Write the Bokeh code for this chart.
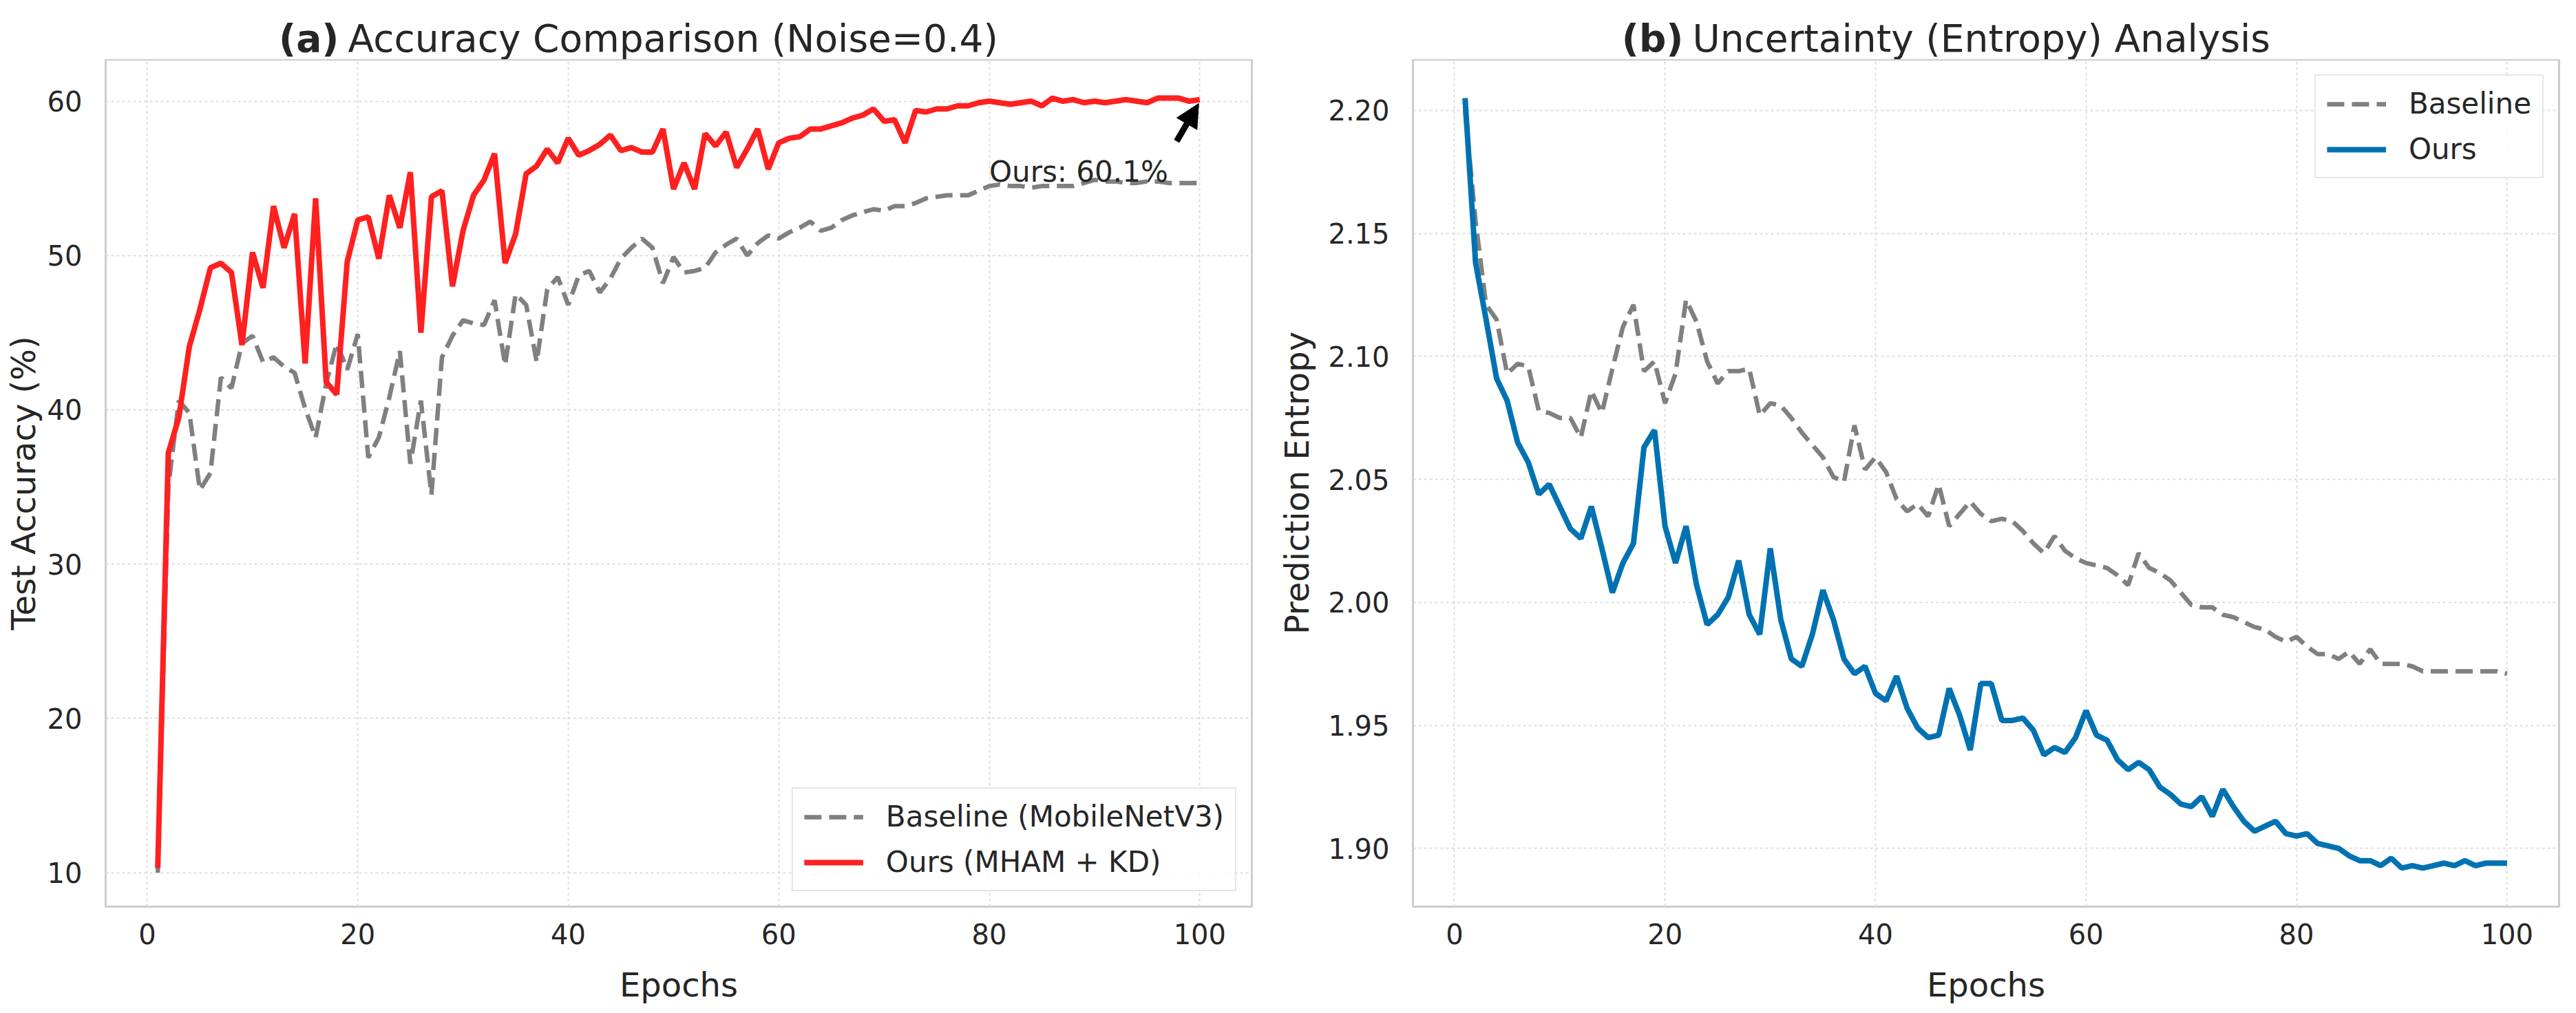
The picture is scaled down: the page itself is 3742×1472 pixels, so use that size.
from bokeh.plotting import figure
from bokeh.layouts import row, column
from bokeh.models import (Range1d, FixedTicker, PrintfTickFormatter, Label,
                          Arrow, NormalHead)
from bokeh.core.properties import value
from bokeh.embed import file_html
from bokeh.resources import INLINE

# ---------------- data ----------------
epochs = list(range(1, 101))

baseline_acc = [
    10.0, 35.0, 40.6, 39.8, 34.8, 35.9, 42.1, 41.4, 44.3, 44.8,
    43.1, 43.4, 42.8, 42.4, 40.1, 38.2, 41.7, 44.3, 42.6, 44.9,
    36.9, 38.2, 40.8, 43.8, 36.5, 40.6, 34.5, 43.4, 44.8, 45.8,
    45.6, 45.5, 47.1, 42.9, 47.5, 46.8, 43.1, 47.8, 48.6, 46.8,
    48.7, 49.0, 47.6, 48.5, 49.8, 50.5, 51.1, 50.5, 48.2, 49.9,
    48.9, 49.0, 49.2, 50.2, 50.7, 51.1, 50.0, 50.8, 51.3, 51.1,
    51.5, 51.8, 52.2, 51.6, 51.8, 52.3, 52.6, 52.8, 53.0, 52.9,
    53.2, 53.2, 53.4, 53.7, 53.8, 53.9, 53.9, 53.9, 54.2, 54.5,
    54.6, 54.5, 54.5, 54.4, 54.5, 54.5, 54.5, 54.5, 54.7, 54.9,
    54.8, 54.8, 54.7, 54.7, 54.8, 54.8, 54.7, 54.7, 54.7, 54.7,
]

ours_acc = [
    10.3, 37.2, 39.5, 44.1, 46.5, 49.2, 49.5, 48.9, 44.2, 50.2,
    47.9, 53.2, 50.5, 52.7, 43.0, 53.7, 41.8, 41.0, 49.6, 52.3,
    52.5, 49.8, 53.9, 51.8, 55.4, 45.0, 53.8, 54.2, 48.0, 51.6,
    53.9, 54.9, 56.6, 49.5, 51.4, 55.3, 55.8, 56.9, 56.0, 57.6,
    56.5, 56.8, 57.2, 57.8, 56.8, 57.0, 56.7, 56.7, 58.2, 54.3,
    56.0, 54.3, 57.9, 57.1, 58.0, 55.7, 56.9, 58.2, 55.6, 57.3,
    57.6, 57.7, 58.2, 58.2, 58.4, 58.6, 58.9, 59.1, 59.5, 58.7,
    58.8, 57.3, 59.4, 59.3, 59.5, 59.5, 59.7, 59.7, 59.9, 60.0,
    59.9, 59.8, 59.9, 60.0, 59.7, 60.2, 60.0, 60.1, 59.9, 60.0,
    59.9, 60.0, 60.1, 60.0, 59.9, 60.2, 60.2, 60.2, 60.0, 60.1,
]

baseline_entropy = [
    2.200, 2.155, 2.121, 2.115, 2.093, 2.097, 2.096, 2.078, 2.077, 2.075,
    2.075, 2.067, 2.086, 2.077, 2.095, 2.112, 2.121, 2.094, 2.098, 2.081,
    2.093, 2.123, 2.114, 2.098, 2.089, 2.094, 2.094, 2.095, 2.076, 2.081,
    2.080, 2.075, 2.069, 2.064, 2.059, 2.051, 2.049, 2.072, 2.054, 2.059,
    2.053, 2.042, 2.037, 2.040, 2.035, 2.048, 2.031, 2.036, 2.041, 2.036,
    2.033, 2.034, 2.033, 2.029, 2.024, 2.020, 2.027, 2.021, 2.018, 2.016,
    2.015, 2.014, 2.011, 2.007, 2.020, 2.014, 2.012, 2.009, 2.004, 1.999,
    1.998, 1.998, 1.995, 1.994, 1.992, 1.990, 1.989, 1.986, 1.984, 1.986,
    1.982, 1.979, 1.979, 1.977, 1.980, 1.975, 1.981, 1.975, 1.975, 1.975,
    1.974, 1.972, 1.972, 1.972, 1.972, 1.972, 1.972, 1.972, 1.972, 1.971,
]

ours_entropy = [
    2.205, 2.138, 2.115, 2.091, 2.082, 2.065, 2.057, 2.044, 2.048, 2.039,
    2.030, 2.026, 2.039, 2.022, 2.004, 2.016, 2.024, 2.063, 2.070, 2.031,
    2.016, 2.031, 2.007, 1.991, 1.995, 2.002, 2.017, 1.995, 1.987, 2.022,
    1.993, 1.977, 1.974, 1.987, 2.005, 1.993, 1.977, 1.971, 1.974, 1.963,
    1.960, 1.970, 1.957, 1.949, 1.945, 1.946, 1.965, 1.954, 1.940, 1.967,
    1.967, 1.952, 1.952, 1.953, 1.948, 1.938, 1.941, 1.939, 1.945, 1.956,
    1.946, 1.944, 1.936, 1.932, 1.935, 1.932, 1.925, 1.922, 1.918, 1.917,
    1.921, 1.913, 1.924, 1.917, 1.911, 1.907, 1.909, 1.911, 1.906, 1.905,
    1.906, 1.902, 1.901, 1.900, 1.897, 1.895, 1.895, 1.893, 1.896, 1.892,
    1.893, 1.892, 1.893, 1.894, 1.893, 1.895, 1.893, 1.894, 1.894, 1.894,
]

x_ticks = [0, 20, 40, 60, 80, 100]
acc_ticks = [10, 20, 30, 40, 50, 60]
ent_ticks = [1.90, 1.95, 2.00, 2.05, 2.10, 2.15, 2.20]

label_baseline_a = "Baseline (MobileNetV3)"
label_ours_a = "Ours (MHAM + KD)"
label_baseline_b = "Baseline"
label_ours_b = "Ours"

title_tag_a, title_text_a = "(a)", "Accuracy Comparison (Noise=0.4)"
title_tag_b, title_text_b = "(b)", "Uncertainty (Entropy) Analysis"

annot_pos = (80, 55.45)       # where the "Ours: xx%" note sits
arrow_tail = (97.8, 57.4)     # arrow start (data units)

# ---------------- style ----------------
FONT = "DejaVu Sans"
TXT = "#262626"
RED = "#ff2020"
BLUE = "#0072B2"
GRAY = "#808080"
FW, FH = 1665, 1231
TITLE_H = 86
BL_A, BR_A = 153, 24      # panel (a) borders
BL_B, BR_B = 210, 9       # panel (b) borders


def base_fig(y_range, border_left, border_right):
    p = figure(frame_width=FW, frame_height=FH,
               x_range=Range1d(-3.95, 104.95), y_range=y_range,
               output_backend="svg", toolbar_location=None, title=None,
               min_border_left=border_left, min_border_right=border_right,
               min_border_top=0, min_border_bottom=139,
               background_fill_color="white", border_fill_color="white")
    p.outline_line_color = "#cccccc"
    p.outline_line_width = 3
    for ax in (p.xaxis[0], p.yaxis[0]):
        ax.axis_line_color = None
        ax.major_tick_line_color = None
        ax.minor_tick_line_color = None
        ax.major_label_text_font = FONT
        ax.major_label_text_font_size = "40px"
        ax.major_label_text_color = TXT
        ax.axis_label_text_font = FONT
        ax.axis_label_text_font_size = "48px"
        ax.axis_label_text_font_style = "normal"
        ax.axis_label_text_color = TXT
    p.xaxis.ticker = FixedTicker(ticks=x_ticks)
    p.xaxis.major_label_standoff = 18
    p.xaxis.axis_label_standoff = 28
    p.yaxis.major_label_standoff = 28
    p.yaxis.axis_label_standoff = 4
    p.xaxis.axis_label = "Epochs"
    for g in (p.xgrid[0], p.ygrid[0]):
        g.grid_line_color = "#dedede"
        g.grid_line_width = 2
        g.grid_line_dash = "4 4"
    return p


def title_fig(tag, text, tag_right, text_left, border_left, border_right):
    """A thin strip above a panel that carries its two-part title.
    Its frame lines up with the panel frame below it."""
    t = figure(frame_width=FW, frame_height=TITLE_H,
               x_range=Range1d(0, FW), y_range=Range1d(0, TITLE_H),
               x_axis_type=None, y_axis_type=None, title=None,
               output_backend="svg", toolbar_location=None,
               min_border_left=border_left, min_border_right=border_right,
               min_border_top=0, min_border_bottom=0,
               background_fill_color="white", border_fill_color="white")
    t.outline_line_color = None
    t.grid.visible = False
    base_y = 31
    t.text(x=[tag_right], y=[base_y], text=[tag], text_font=value(FONT),
           text_font_size=value("55px"), text_font_style="bold",
           text_color=TXT, text_align="right", text_baseline="alphabetic")
    t.text(x=[text_left], y=[base_y], text=[text], text_font=value(FONT),
           text_font_size=value("55px"), text_color=TXT,
           text_align="left", text_baseline="alphabetic")
    return t


def style_legend(p, loc):
    lg = p.legend[0]
    lg.location = loc
    lg.margin = 22
    lg.padding = 16
    lg.spacing = 17
    lg.glyph_width = 86
    lg.glyph_height = 42
    lg.label_standoff = 33
    lg.label_text_font = FONT
    lg.label_text_font_size = "42px"
    lg.label_text_color = TXT
    lg.border_line_color = "#cccccc"
    lg.border_line_width = 2
    lg.background_fill_color = "white"
    lg.background_fill_alpha = 0.85


# ---------------- panel (a) ----------------
pa = base_fig(Range1d(7.8, 62.7), BL_A, BR_A)
pa.yaxis.ticker = FixedTicker(ticks=acc_ticks)
pa.yaxis.axis_label = "Test Accuracy (%)"
pa.line(epochs, baseline_acc, line_color=GRAY, line_width=6.5,
        line_dash="25 11", legend_label=label_baseline_a)
pa.line(epochs, ours_acc, line_color=RED, line_width=8,
        legend_label=label_ours_a)
style_legend(pa, "bottom_right")

final_x, final_y = epochs[-1], ours_acc[-1]
pa.add_layout(Label(x=annot_pos[0], y=annot_pos[1],
                    text=f"Ours: {final_y:.1f}%", text_font=FONT,
                    text_font_size="42px", text_color=TXT,
                    text_align="left", text_baseline="alphabetic"))
pa.add_layout(Arrow(x_start=arrow_tail[0], y_start=arrow_tail[1],
                    x_end=final_x - 0.1, y_end=final_y - 0.25,
                    line_color="black", line_width=9,
                    end=NormalHead(size=34, fill_color="black",
                                   line_color="black", line_width=1)))
ta = title_fig(title_tag_a, title_text_a, 339, 352, BL_A, BR_A)

# ---------------- panel (b) ----------------
pb = base_fig(Range1d(1.8763, 2.2207), BL_B, BR_B)
pb.yaxis.ticker = FixedTicker(ticks=ent_ticks)
pb.yaxis.formatter = PrintfTickFormatter(format="%.2f")
pb.yaxis.axis_label = "Prediction Entropy"
pb.yaxis.major_label_standoff = 28
pb.yaxis.axis_label_standoff = 14
pb.line(epochs, baseline_entropy, line_color=GRAY, line_width=6.5,
        line_dash="25 11", legend_label=label_baseline_b)
pb.line(epochs, ours_entropy, line_color=BLUE, line_width=8,
        legend_label=label_ours_b)
style_legend(pb, "top_right")
tb = title_fig(title_tag_b, title_text_b, 393, 406, BL_B, BR_B)

layout = row(column(ta, pa), column(tb, pb))
open("out.html", "w").write(file_html(layout, INLINE))
